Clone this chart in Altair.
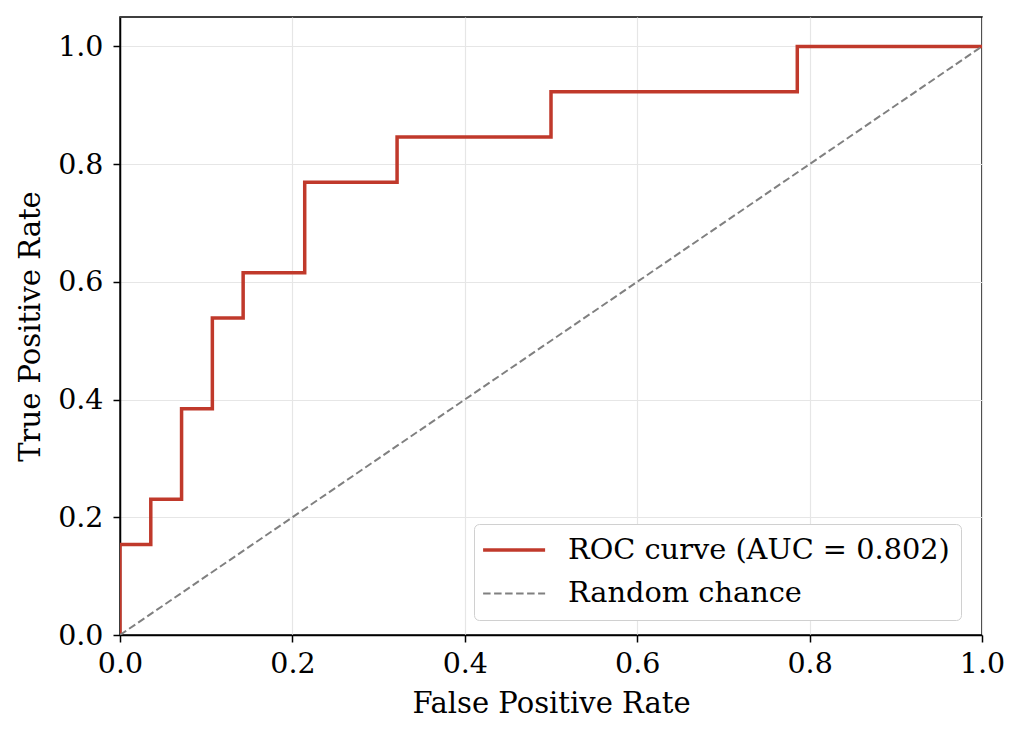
import altair as alt
import pandas as pd

# ROC curve corner points
fpr = [0.0, 0.0, 0.0, 1/28, 1/28, 2/28, 2/28, 3/28, 3/28, 4/28, 4/28, 6/28, 6/28,
       9/28, 9/28, 14/28, 14/28, 22/28, 22/28, 1.0]
tpr = [0.0, 0.0, 2/13, 2/13, 3/13, 3/13, 5/13, 5/13, 7/13, 7/13, 8/13, 8/13, 10/13,
       10/13, 11/13, 11/13, 12/13, 12/13, 1.0, 1.0]
diag_x = [0.0, 1.0]
diag_y = [0.0, 1.0]

roc_label = "ROC curve (AUC = 0.802)"
rand_label = "Random chance"
series_names = [roc_label, rand_label]
series_colors = ["#c0392b", "#808080"]

rows = []
for i, (a, b) in enumerate(zip(fpr, tpr)):
    rows.append({"fpr": a, "tpr": b, "series": roc_label, "idx": i})
for i, (a, b) in enumerate(zip(diag_x, diag_y)):
    rows.append({"fpr": a, "tpr": b, "series": rand_label, "idx": i})
df = pd.DataFrame(rows)

ticks = [0.0, 0.2, 0.4, 0.6, 0.8, 1.0]
FONT = "DejaVu Serif"

chart = alt.Chart(df).mark_line(clip=True).encode(
    x=alt.X("fpr:Q", title="False Positive Rate",
            scale=alt.Scale(domain=[0, 1], nice=False, zero=False),
            axis=alt.Axis(values=ticks, format=".1f", titlePadding=12,
                          labelPadding=7, labelFlush=False)),
    y=alt.Y("tpr:Q", title="True Positive Rate",
            scale=alt.Scale(domain=[0, 1.05], nice=False, zero=False),
            axis=alt.Axis(values=ticks, format=".1f", titlePadding=12,
                          labelPadding=10, labelFlush=False)),
    color=alt.Color("series:N",
                    scale=alt.Scale(domain=series_names, range=series_colors),
                    legend=alt.Legend(title=None)),
    strokeDash=alt.StrokeDash("series:N",
                              scale=alt.Scale(domain=series_names, range=[[1, 0], [7.5, 3.5]]),
                              legend=alt.Legend(title=None)),
    strokeWidth=alt.StrokeWidth("series:N",
                                scale=alt.Scale(domain=series_names, range=[3.5, 2]),
                                legend=alt.Legend(title=None)),
    order="idx:Q",
    detail="series:N",
).properties(
    width=862, height=618,
    autosize=alt.AutoSizeParams(type="none"),
    padding={"left": 112, "top": 9, "right": 30, "bottom": 96},
).configure_view(
    stroke="black", strokeWidth=1.5
).configure_axis(
    labelFont=FONT, titleFont=FONT, labelFontSize=28.5, titleFontSize=29,
    labelColor="black", titleColor="black", titleFontWeight="normal",
    domainColor="black", domainWidth=1.5, tickColor="black", tickWidth=1.5,
    tickSize=7, gridColor="#e6e6e6", gridWidth=1.2,
).configure_legend(
    orient="none", legendX=354, legendY=507,
    labelFont=FONT, labelFontSize=28.8, labelColor="black",
    strokeColor="#d0d0d0", fillColor="white", cornerRadius=5, padding=11,
    symbolType="M-1.3,0H3.47", symbolSize=676, labelOffset=53, rowPadding=14,
    labelLimit=600,
)

chart.save("out.html", embed_options={"renderer": "svg", "actions": False})
